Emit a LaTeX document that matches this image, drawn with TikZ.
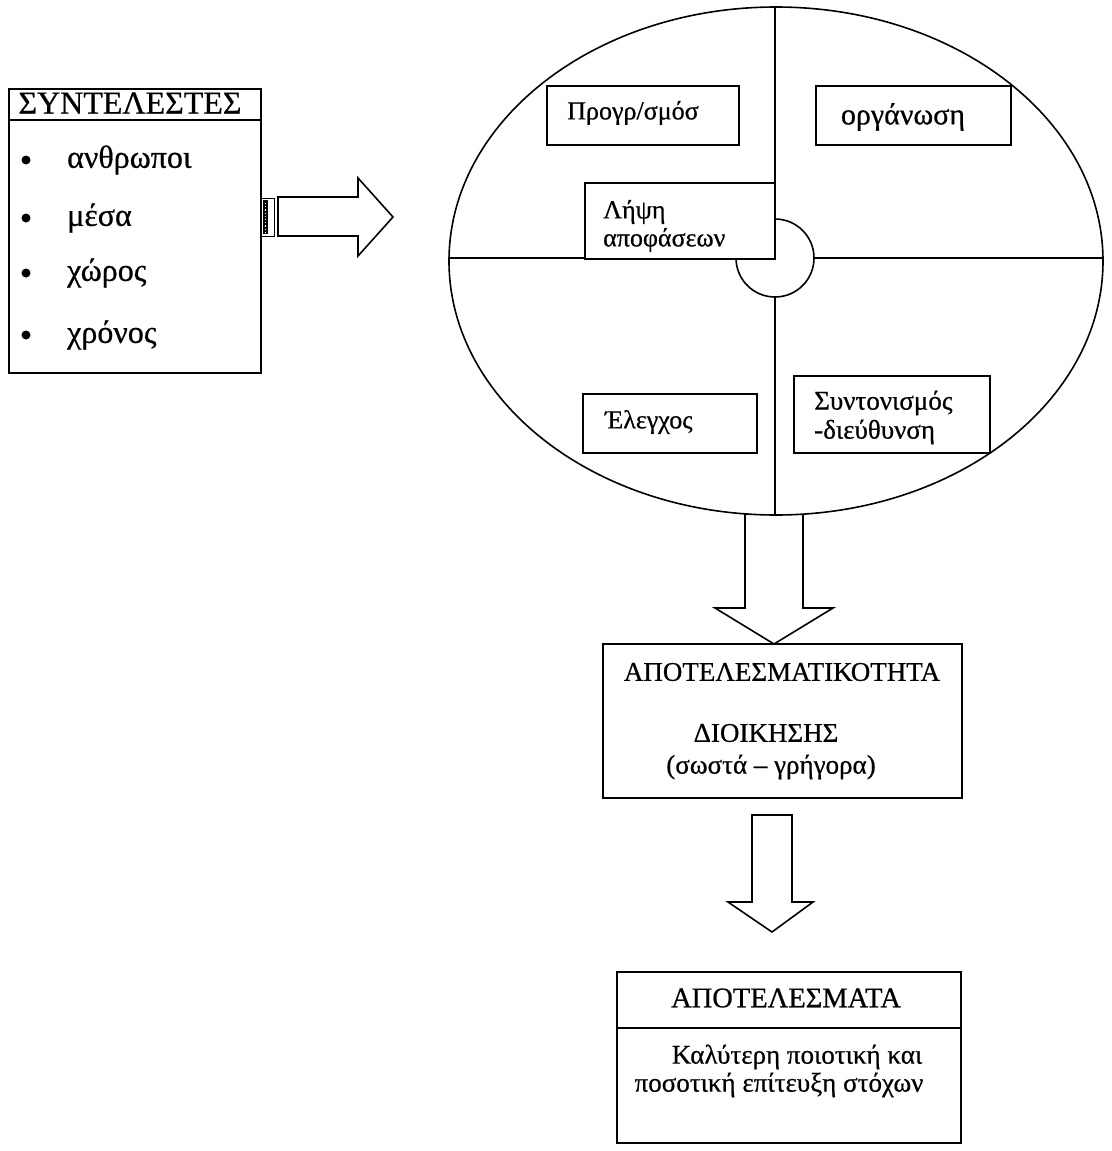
\documentclass[tikz,border=0pt]{standalone}
\usepackage{fontspec}
\setmainfont{Liberation Serif}[FakeBold=0.6]
\usetikzlibrary{shapes.geometric}
\begin{document}
\begin{tikzpicture}[x=1pt,y=-1pt,
  ln/.style={line width=1.6pt},
  boxn/.style={draw,line width=1.6pt,fill=white,anchor=north west,inner sep=0pt},
  txt/.style={inner sep=0pt,font=\fontsize{26}{30}\selectfont},
  big/.style={inner sep=0pt,font=\fontsize{32}{36}\selectfont},
  capt/.style={inner sep=0pt,font=\fontsize{27}{31}\selectfont},
  blockarrow/.style={draw,line width=1.6pt,fill=white,line join=miter}]
\useasboundingbox (0,0) rectangle (1111,1151);

% left box
\node[boxn,minimum width=252pt,minimum height=284pt] (syn) at (8,88) {};
\coordinate (synL) at (8,120);
\coordinate (synR) at (260,120);
\draw[ln] (synL) -- (synR);
\node[big] (synh) at (130,103) {ΣΥΝΤΕΛΕΣΤΕΣ};
\foreach \n/\yy/\t in {a/160/ανθρωποι, b/218/μέσα, c/273/χώρος, d/335/χρόνος}{
  \fill (26,\yy) circle (4.5pt);
  \node[big,anchor=west] (it\n) at (67,\yy) {\t};
}

% right block arrow with small connector
\node[draw,line width=1.2pt,minimum width=14pt,minimum height=38pt,inner sep=0pt,anchor=north west] (plug) at (260,198) {};
\fill (263,200) rectangle (268,234);
\draw[white,line width=1.2pt,dotted] (265.5,203) -- (265.5,232);
\draw[blockarrow] (278,197) -- (358,197) -- (358,178) -- (393,217) -- (358,256) -- (358,236) -- (278,236) -- cycle;

% down arrow 1 (from ellipse)
\draw[blockarrow] (745,514) -- (745,608) -- (715,608) -- (774,644) -- (833,608) -- (803,608) -- (803,514);

% ellipse
\node[draw,line width=1.6pt,ellipse,minimum width=654pt,minimum height=508pt,inner sep=0pt] (ell) at (776,261) {};
\node[draw,line width=1.6pt,circle,minimum size=78pt,inner sep=0pt] (hub) at (775,258) {};
\draw[ln] (ell.north -| hub.north) -- (hub.north);
\draw[ln] (hub.south) -- (ell.south -| hub.south);
\draw[ln] (ell.west |- hub.west) -- (hub.west);
\draw[ln] (hub.east) -- (ell.east |- hub.east);

% boxes inside ellipse
\node[boxn,minimum width=192pt,minimum height=59pt] (prog) at (546,85) {};
\node[txt] (progt) at (633,113) {Προγρ/σμόσ};
\node[boxn,minimum width=195pt,minimum height=59pt] (org) at (815,85) {};
\node[txt,font=\fontsize{30}{34}\selectfont] (orgt) at (903,117) {οργάνωση};
\node[boxn,minimum width=190pt,minimum height=76pt] (lipsi) at (584,182) {};
\node[txt,anchor=west] (lipsi1) at (603,212) {Λήψη};
\node[txt,anchor=west] (lipsi2) at (603,240) {αποφάσεων};
\node[boxn,minimum width=174pt,minimum height=59pt] (elegx) at (582,393) {};
\node[txt,anchor=west] (elegxt) at (605,422) {Έλεγχος};
\node[boxn,minimum width=196pt,minimum height=77pt] (synt) at (793,375) {};
\node[txt,font=\fontsize{27}{31}\selectfont,anchor=west] (synt1) at (814,403) {Συντονισμός};
\node[txt,font=\fontsize{27}{31}\selectfont,anchor=west] (synt2) at (814,432) {-διεύθυνση};

% effectiveness box
\node[boxn,minimum width=359pt,minimum height=154pt] (apot) at (602,643) {};
\node[capt] (apot1) at (782,672) {ΑΠΟΤΕΛΕΣΜΑΤΙΚΟΤΗΤΑ};
\node[capt] (apot2) at (766,733) {ΔΙΟΙΚΗΣΗΣ};
\node[capt] (apot3) at (771,767) {(σωστά – γρήγορα)};

% down arrow 2
\draw[blockarrow] (752,815) -- (792,815) -- (792,902) -- (813,902) -- (772,932) -- (728,902) -- (752,902) -- cycle;

% results box
\node[boxn,minimum width=344pt,minimum height=171pt] (res) at (616,971) {};
\coordinate (resL) at (616,1028);
\coordinate (resR) at (960,1028);
\draw[ln] (resL) -- (resR);
\node[capt,font=\fontsize{28.5}{32}\selectfont] (res1) at (786,998) {ΑΠΟΤΕΛΕΣΜΑΤΑ};
\node[capt] (res2) at (797,1057) {Καλύτερη ποιοτική και};
\node[capt] (res3) at (779,1085) {ποσοτική επίτευξη στόχων};
\end{tikzpicture}
\end{document}
